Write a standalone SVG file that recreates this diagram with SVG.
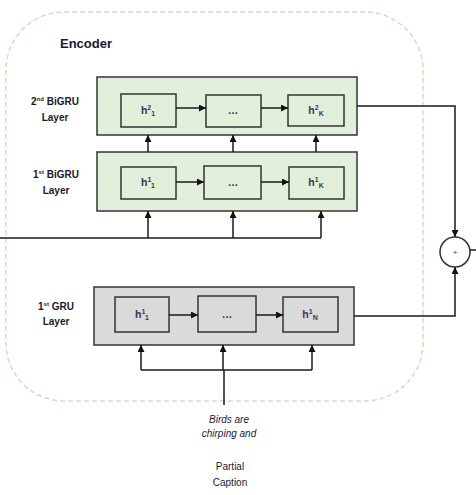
<svg xmlns="http://www.w3.org/2000/svg" width="476" height="495" viewBox="0 0 476 495">
<style>
.lbl{font-family:"Liberation Sans",Arial,sans-serif;font-size:10px;font-weight:bold;fill:#1a1a2e;text-anchor:middle}
.cell{font-family:"Liberation Sans",Arial,sans-serif;font-size:10.5px;font-weight:bold;fill:#3a3550;text-anchor:middle}
.cap{font-family:"Liberation Sans",Arial,sans-serif;font-size:10px;fill:#1a1a2e;text-anchor:middle}
.layer{stroke:#333;stroke-width:1.5}
.g{fill:#e2efda}
.y{fill:#dadada}
.c{stroke:#333;stroke-width:1.5}
.ln{fill:none;stroke:#1a1a1a;stroke-width:1.5}
</style>
<defs>
<marker id="ah" viewBox="0 0 10 10" refX="10" refY="5" markerWidth="7" markerHeight="7" markerUnits="userSpaceOnUse" orient="auto">
<path d="M0,0 L10,5 L0,10 z" fill="#111"/>
</marker>
</defs>
<rect x="6" y="12" width="417" height="389" rx="58" ry="58" fill="none" stroke="#c9e3bd" stroke-width="1.5" stroke-dasharray="5,3"/>
<text x="60" y="48" font-family="Liberation Sans,Arial,sans-serif" font-size="13" font-weight="bold" fill="#1a1a2e">Encoder</text>

<g id="bigru2">
<rect class="layer g" x="97" y="77" width="260" height="58"/>
<rect class="c g" x="121" y="94" width="55" height="33"/>
<rect class="c g" x="206" y="95" width="55" height="32"/>
<rect class="c g" x="288" y="95" width="56" height="31"/>
<text class="cell" x="148" y="114">h<tspan font-size="7" dy="-4">2</tspan><tspan font-size="7" dy="6">1</tspan></text>
<text class="cell" x="233" y="114" font-weight="normal" font-size="8">…</text>
<text class="cell" x="316" y="114">h<tspan font-size="7" dy="-4">2</tspan><tspan font-size="7" dy="6">K</tspan></text>
<text class="lbl" x="55" y="105">2<tspan font-size="6" dy="-4">nd</tspan><tspan dy="4"> BiGRU</tspan></text>
<text class="lbl" x="55" y="121">Layer</text>
</g>

<g id="bigru1">
<rect class="layer g" x="97" y="152" width="260" height="59"/>
<rect class="c g" x="121" y="167" width="55" height="32"/>
<rect class="c g" x="204" y="166" width="57" height="33"/>
<rect class="c g" x="289" y="167" width="55" height="32"/>
<text class="cell" x="148" y="186">h<tspan font-size="7" dy="-4">1</tspan><tspan font-size="7" dy="6">1</tspan></text>
<text class="cell" x="233" y="186" font-weight="normal" font-size="8">…</text>
<text class="cell" x="316" y="186">h<tspan font-size="7" dy="-4">1</tspan><tspan font-size="7" dy="6">K</tspan></text>
<text class="lbl" x="56" y="178">1<tspan font-size="6" dy="-4">st</tspan><tspan dy="4"> BiGRU</tspan></text>
<text class="lbl" x="56" y="194">Layer</text>
</g>

<g id="gru1">
<rect class="layer y" x="94" y="287" width="260" height="58"/>
<rect class="c y" x="115" y="297" width="54" height="35"/>
<rect class="c y" x="198" y="296" width="58" height="36"/>
<rect class="c y" x="283" y="297" width="55" height="35"/>
<text class="cell" x="142" y="318">h<tspan font-size="7" dy="-4">1</tspan><tspan font-size="7" dy="6">1</tspan></text>
<text class="cell" x="227" y="318" font-weight="normal" font-size="8">…</text>
<text class="cell" x="310" y="318">h<tspan font-size="7" dy="-4">1</tspan><tspan font-size="7" dy="6">N</tspan></text>
<text class="lbl" x="56" y="310">1<tspan font-size="6" dy="-4">st</tspan><tspan dy="4"> GRU</tspan></text>
<text class="lbl" x="56" y="325">Layer</text>
</g>

<g id="sum">
<circle cx="455" cy="252" r="15" fill="#fff" stroke="#333" stroke-width="1.5"/>
<text x="455" y="255" font-family="Liberation Sans,Arial,sans-serif" font-size="8" fill="#444" text-anchor="middle">+</text>
</g>

<g id="caption">
<text class="cap" x="229" y="423" font-style="italic">Birds are</text>
<text class="cap" x="229" y="437" font-style="italic">chirping and</text>
<text class="cap" x="230" y="470">Partial</text>
<text class="cap" x="230" y="486">Caption</text>
</g>

<g id="connectors">
<line class="ln" x1="176" y1="108" x2="206" y2="108" marker-end="url(#ah)"/>
<line class="ln" x1="261" y1="108" x2="288" y2="108" marker-end="url(#ah)"/>
<line class="ln" x1="176" y1="182" x2="204" y2="182" marker-end="url(#ah)"/>
<line class="ln" x1="261" y1="182" x2="289" y2="182" marker-end="url(#ah)"/>
<line class="ln" x1="169" y1="315" x2="198" y2="315" marker-end="url(#ah)"/>
<line class="ln" x1="256" y1="315" x2="283" y2="315" marker-end="url(#ah)"/>
<line class="ln" x1="148" y1="152" x2="148" y2="135" marker-end="url(#ah)"/>
<line class="ln" x1="233" y1="152" x2="233" y2="135" marker-end="url(#ah)"/>
<line class="ln" x1="316" y1="152" x2="316" y2="135" marker-end="url(#ah)"/>
<polyline class="ln" points="0,238 321,238"/>
<line class="ln" x1="148" y1="238" x2="148" y2="211" marker-end="url(#ah)"/>
<line class="ln" x1="233" y1="238" x2="233" y2="211" marker-end="url(#ah)"/>
<line class="ln" x1="321" y1="238" x2="321" y2="211" marker-end="url(#ah)"/>
<polyline class="ln" points="141,370 312,370"/>
<line class="ln" x1="224" y1="405" x2="224" y2="370"/>
<line class="ln" x1="141" y1="370" x2="141" y2="345" marker-end="url(#ah)"/>
<line class="ln" x1="223" y1="370" x2="223" y2="345" marker-end="url(#ah)"/>
<line class="ln" x1="312" y1="370" x2="312" y2="345" marker-end="url(#ah)"/>
<polyline class="ln" points="357,106 455,106 455,237" marker-end="url(#ah)"/>
<polyline class="ln" points="354,316 455,316 455,267" marker-end="url(#ah)"/>
<line class="ln" x1="470" y1="250" x2="476" y2="250"/>
</g>
</svg>
